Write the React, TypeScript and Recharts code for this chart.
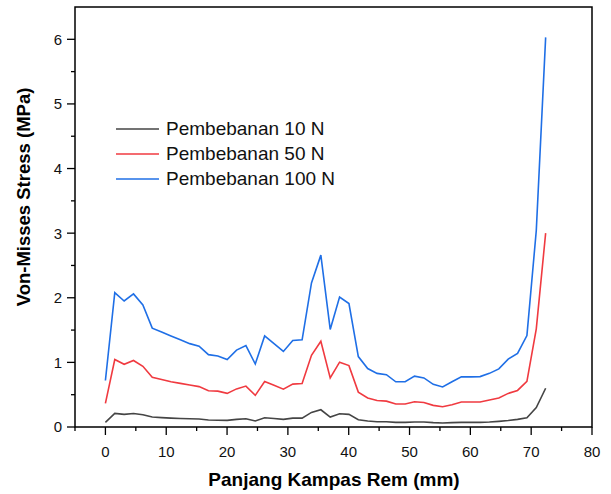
import { Legend, Line, LineChart, ReferenceArea, XAxis, YAxis } from 'recharts';

// posisi titik sepanjang kampas rem (mm)
const X_MM = [
  0, 1.54, 3.08, 4.62, 6.16, 7.7, 9.24, 10.78, 12.32, 13.86, 15.4, 16.94,
  18.48, 20.02, 21.56, 23.1, 24.64, 26.18, 27.72, 29.26, 30.8, 32.34, 33.88, 35.42,
  36.96, 38.5, 40.04, 41.58, 43.12, 44.66, 46.2, 47.74, 49.28, 50.82, 52.36, 53.9,
  55.44, 56.98, 58.52, 60.06, 61.6, 63.14, 64.68, 66.22, 67.76, 69.3, 70.84, 72.38,
];

const STRESS_10N = [
  0.072, 0.21, 0.195, 0.21, 0.19, 0.154, 0.145, 0.138, 0.132, 0.127, 0.123, 0.108,
  0.105, 0.103, 0.118, 0.128, 0.093, 0.144, 0.131, 0.118, 0.138, 0.138, 0.226, 0.267,
  0.154, 0.206, 0.195, 0.113, 0.093, 0.082, 0.082, 0.072, 0.072, 0.077, 0.077, 0.067,
  0.062, 0.067, 0.072, 0.072, 0.072, 0.077, 0.087, 0.1, 0.118, 0.144, 0.3, 0.6,
];

const STRESS_50N = [
  0.365, 1.045, 0.97, 1.03, 0.94, 0.77, 0.735, 0.7, 0.675, 0.65, 0.625, 0.56,
  0.555, 0.52, 0.59, 0.633, 0.49, 0.705, 0.645, 0.586, 0.664, 0.674, 1.11, 1.327,
  0.76, 1.003, 0.95, 0.54, 0.45, 0.41, 0.4, 0.355, 0.355, 0.39, 0.38, 0.335,
  0.313, 0.345, 0.386, 0.386, 0.386, 0.417, 0.45, 0.52, 0.566, 0.705, 1.52, 3.0,
];

const STRESS_100N = [
  0.72, 2.08, 1.95, 2.06, 1.89, 1.53, 1.47, 1.41, 1.35, 1.29, 1.25, 1.12,
  1.1, 1.045, 1.19, 1.26, 0.975, 1.41, 1.29, 1.17, 1.34, 1.35, 2.23, 2.66,
  1.51, 2.01, 1.91, 1.09, 0.905, 0.83, 0.81, 0.7, 0.7, 0.787, 0.76, 0.66,
  0.62, 0.7, 0.776, 0.776, 0.78, 0.83, 0.9, 1.05, 1.14, 1.415, 3.04, 6.03,
];

const X_TICKS = [-5, 0, 5, 10, 15, 20, 25, 30, 35, 40, 45, 50, 55, 60, 65, 70, 75, 80];
const Y_TICKS = [0, 0.5, 1, 1.5, 2, 2.5, 3, 3.5, 4, 4.5, 5, 5.5, 6];

const SERIES = [
  { key: 's10', name: 'Pembebanan 10 N', color: '#454545' },
  { key: 's50', name: 'Pembebanan 50 N', color: '#f03a40' },
  { key: 's100', name: 'Pembebanan 100 N', color: '#1f6fe6' },
];

const data = X_MM.map((x, i) => ({
  x,
  s10: STRESS_10N[i],
  s50: STRESS_50N[i],
  s100: STRESS_100N[i],
}));

const FONT = '"Liberation Sans", Arial, sans-serif';

function XTick({ x, y, payload }: any) {
  const v = payload.value;
  const major = v % 10 === 0;
  return (
    <g>
      <line x1={x} x2={x} y1={y} y2={y + (major ? 8 : 4)} stroke="#000" strokeWidth={1.3} />
      {major && (
        <text x={x} y={y + 30} textAnchor="middle" fontSize={15} fill="#111" fontFamily={FONT}>
          {v}
        </text>
      )}
    </g>
  );
}

function YTick({ x, y, payload }: any) {
  const v = payload.value;
  const major = v % 1 === 0;
  return (
    <g>
      <line x1={x} x2={x - (major ? 8 : 4)} y1={y} y2={y} stroke="#000" strokeWidth={1.3} />
      {major && (
        <text x={x - 13} y={y + 5.4} textAnchor="end" fontSize={15} fill="#111" fontFamily={FONT}>
          {v}
        </text>
      )}
    </g>
  );
}

function XTitle() {
  return (
    <text x={334} y={486} textAnchor="middle" fontSize={19} fontWeight="bold" fill="#000" fontFamily={FONT}>
      Panjang Kampas Rem (mm)
    </text>
  );
}

function YTitle() {
  return (
    <text
      x={29.5}
      y={197}
      transform="rotate(-90, 29.5, 197)"
      textAnchor="middle"
      fontSize={18.5}
      fontWeight="bold"
      fill="#000"
      fontFamily={FONT}
    >
      Von-Misses Stress (MPa)
    </text>
  );
}

// legend keeps the series order (recharts sorts by name otherwise)
function LegendBox() {
  return (
    <div style={{ fontFamily: FONT }}>
      {SERIES.map((s) => (
        <div key={s.key} style={{ display: 'flex', alignItems: 'center', height: 25 }}>
          <svg width={43} height={4} style={{ marginRight: 7, display: 'block' }}>
            <line x1={0} x2={43} y1={2} y2={2} stroke={s.color} strokeWidth={1.6} />
          </svg>
          <span style={{ fontSize: 19, color: '#111', lineHeight: '25px' }}>{s.name}</span>
        </div>
      ))}
    </div>
  );
}

export default function App() {
  return (
    <div style={{ position: 'absolute', left: 0, top: 0, width: 611, height: 494, background: '#fff' }}>
      <LineChart width={611} height={494} data={data} margin={{ top: 7, right: 19, bottom: 0, left: 0 }}>
        <XAxis
          dataKey="x"
          type="number"
          domain={[-5, 80]}
          ticks={X_TICKS}
          interval={0}
          allowDataOverflow
          height={67}
          tickSize={0}
          tickMargin={0}
          tickLine={false}
          axisLine={false}
          tick={<XTick />}
          label={<XTitle />}
        />
        <YAxis
          type="number"
          domain={[0, 6.5]}
          ticks={Y_TICKS}
          interval={0}
          allowDataOverflow
          width={75}
          tickSize={0}
          tickMargin={0}
          tickLine={false}
          axisLine={false}
          tick={<YTick />}
          label={<YTitle />}
        />
        <ReferenceArea x1={-5} x2={80} y1={0} y2={6.5} fill="none" stroke="#000" strokeWidth={1.5} ifOverflow="visible" />
        {SERIES.map((s) => (
          <Line
            key={s.key}
            type="linear"
            dataKey={s.key}
            name={s.name}
            stroke={s.color}
            strokeWidth={1.6}
            dot={false}
            activeDot={false}
            isAnimationActive={false}
          />
        ))}
        <Legend
          layout="vertical"
          align="center"
          verticalAlign="middle"
          content={<LegendBox />}
          wrapperStyle={{ position: 'absolute', left: 116, top: 116, width: 260, height: 76 }}
        />
      </LineChart>
    </div>
  );
}
